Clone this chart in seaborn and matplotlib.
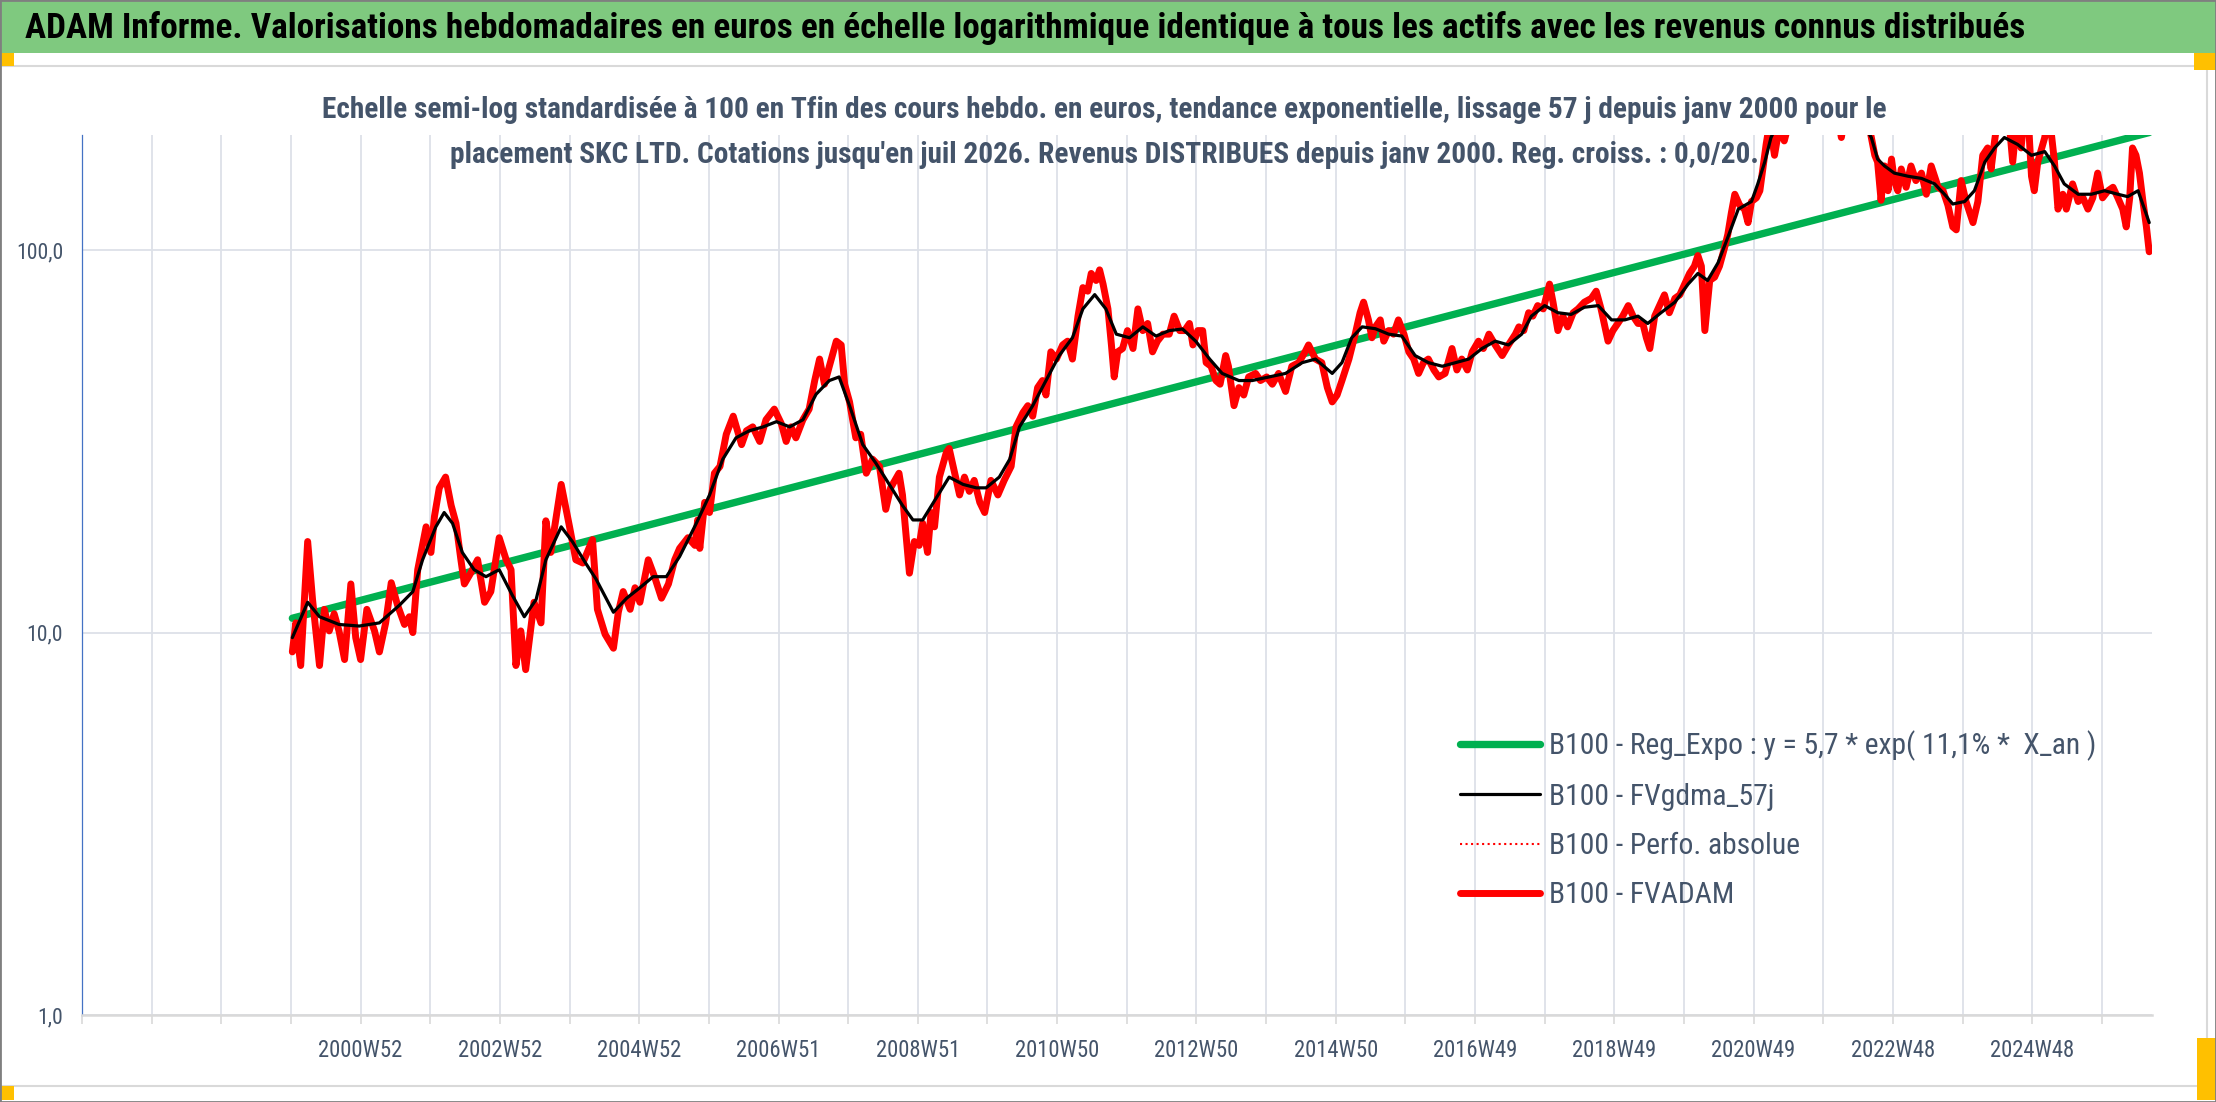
import os
import matplotlib
matplotlib.use("Agg")
import matplotlib.pyplot as plt
import pandas as pd
import seaborn as sns
from matplotlib import font_manager as fm
from matplotlib.font_manager import FontProperties
from matplotlib.patches import Rectangle
from matplotlib.ticker import NullLocator

# B100 - FVADAM (annee decimale, valeur base 100)
fvadam = [
    (2000.02, 8.9), (2000.07, 10.6), (2000.14, 8.2), (2000.24, 17.3), (2000.31, 12.2), (2000.41, 8.2),
    (2000.48, 11.5), (2000.55, 10.1), (2000.62, 11.2), (2000.69, 10.1), (2000.77, 8.5), (2000.86, 13.4),
    (2000.93, 9.7), (2001.00, 8.5), (2001.09, 11.5), (2001.20, 10.1), (2001.27, 8.9), (2001.36, 10.6),
    (2001.44, 13.5), (2001.53, 11.8), (2001.63, 10.5), (2001.70, 11.0), (2001.75, 10.0), (2001.82, 14.6),
    (2001.94, 18.9), (2002.01, 16.2), (2002.06, 20.1), (2002.13, 23.9), (2002.22, 25.5), (2002.30, 21.5),
    (2002.37, 19.3), (2002.44, 15.5), (2002.49, 13.4), (2002.58, 14.3), (2002.68, 15.5), (2002.78, 12.0),
    (2002.87, 12.8), (2002.99, 17.7), (2003.09, 15.5), (2003.16, 14.6), (2003.23, 8.2), (2003.30, 10.1),
    (2003.37, 8.0), (2003.49, 12.0), (2003.59, 10.6), (2003.66, 19.6), (2003.73, 16.2), (2003.80, 19.6),
    (2003.88, 24.4), (2004.00, 18.9), (2004.09, 15.5), (2004.19, 15.2), (2004.33, 17.5), (2004.40, 11.5),
    (2004.51, 9.9), (2004.63, 9.1), (2004.70, 11.3), (2004.77, 12.8), (2004.87, 11.5), (2004.94, 13.1),
    (2005.01, 12.0), (2005.13, 15.5), (2005.22, 14.0), (2005.32, 12.3), (2005.42, 13.4), (2005.51, 15.5),
    (2005.58, 16.6), (2005.70, 17.7), (2005.80, 16.9), (2005.84, 19.7), (2005.87, 16.6), (2005.94, 21.9),
    (2006.01, 20.6), (2006.08, 26.1), (2006.16, 27.2), (2006.25, 33.0), (2006.35, 36.8), (2006.47, 31.0),
    (2006.54, 33.7), (2006.63, 34.5), (2006.73, 31.6), (2006.82, 36.0), (2006.94, 38.4), (2007.04, 35.2),
    (2007.11, 31.6), (2007.18, 34.5), (2007.25, 32.3), (2007.35, 36.0), (2007.44, 38.4), (2007.52, 45.6),
    (2007.59, 51.9), (2007.66, 44.6), (2007.73, 49.7), (2007.83, 57.8), (2007.90, 56.5), (2007.95, 44.6),
    (2008.02, 40.1), (2008.11, 32.3), (2008.18, 33.0), (2008.26, 26.1), (2008.35, 28.4), (2008.45, 27.2),
    (2008.54, 21.0), (2008.61, 23.9), (2008.73, 26.1), (2008.78, 22.9), (2008.88, 14.3), (2008.95, 17.3),
    (2009.02, 16.9), (2009.07, 19.3), (2009.14, 16.2), (2009.19, 20.6), (2009.24, 18.9), (2009.31, 25.5),
    (2009.41, 29.6), (2009.45, 30.3), (2009.53, 26.1), (2009.60, 22.9), (2009.67, 25.5), (2009.74, 23.4),
    (2009.81, 25.0), (2009.89, 21.9), (2009.96, 20.6), (2010.05, 25.0), (2010.15, 22.9), (2010.24, 25.0),
    (2010.34, 27.2), (2010.41, 34.5), (2010.51, 37.6), (2010.58, 39.2), (2010.65, 36.8), (2010.72, 43.7),
    (2010.79, 45.6), (2010.84, 41.8), (2010.91, 54.2), (2010.99, 51.9), (2011.08, 56.5), (2011.15, 57.8),
    (2011.22, 51.9), (2011.30, 67.2), (2011.37, 79.8), (2011.44, 78.1), (2011.49, 86.9), (2011.56, 83.3),
    (2011.61, 88.8), (2011.66, 81.5), (2011.73, 70.2), (2011.78, 56.5), (2011.82, 46.6), (2011.87, 54.2),
    (2011.94, 55.3), (2012.01, 61.6), (2012.09, 55.3), (2012.16, 70.2), (2012.23, 61.6), (2012.30, 64.3),
    (2012.37, 54.2), (2012.44, 57.8), (2012.52, 60.3), (2012.61, 60.3), (2012.68, 67.2), (2012.76, 61.6),
    (2012.83, 61.6), (2012.90, 64.3), (2012.95, 56.5), (2013.02, 61.6), (2013.09, 61.6), (2013.14, 50.8),
    (2013.21, 49.7), (2013.28, 45.6), (2013.34, 44.6), (2013.42, 53.0), (2013.46, 49.7), (2013.54, 39.2),
    (2013.61, 43.7), (2013.68, 41.8), (2013.75, 46.6), (2013.85, 47.6), (2013.92, 45.6), (2014.01, 46.6),
    (2014.09, 44.6), (2014.18, 47.6), (2014.28, 42.7), (2014.37, 49.7), (2014.47, 50.8), (2014.56, 54.2),
    (2014.61, 56.5), (2014.71, 51.9), (2014.80, 50.8), (2014.88, 43.7), (2014.95, 40.1), (2015.02, 41.8),
    (2015.09, 45.6), (2015.19, 51.9), (2015.28, 60.3), (2015.35, 68.6), (2015.40, 73.1), (2015.47, 65.7),
    (2015.52, 59.0), (2015.57, 63.0), (2015.64, 65.7), (2015.69, 57.8), (2015.76, 61.6), (2015.83, 60.3),
    (2015.90, 65.7), (2015.98, 60.3), (2016.05, 54.2), (2016.12, 51.9), (2016.19, 47.6), (2016.26, 50.8),
    (2016.33, 51.9), (2016.41, 48.6), (2016.48, 46.6), (2016.57, 47.6), (2016.67, 55.3), (2016.74, 48.6),
    (2016.81, 51.9), (2016.89, 48.6), (2016.96, 54.2), (2017.05, 57.8), (2017.12, 55.3), (2017.20, 60.3),
    (2017.29, 56.5), (2017.39, 53.0), (2017.48, 56.5), (2017.58, 60.3), (2017.63, 63.0), (2017.70, 61.6),
    (2017.77, 68.6), (2017.83, 67.2), (2017.90, 71.6), (2017.98, 70.2), (2018.07, 81.5), (2018.12, 73.1),
    (2018.19, 61.6), (2018.26, 67.2), (2018.33, 63.0), (2018.41, 68.6), (2018.48, 70.2), (2018.57, 73.1),
    (2018.67, 74.8), (2018.74, 78.1), (2018.81, 70.2), (2018.91, 57.8), (2018.98, 61.6), (2019.05, 64.3),
    (2019.12, 67.2), (2019.20, 71.6), (2019.27, 67.2), (2019.34, 64.3), (2019.41, 64.3), (2019.46, 59.0),
    (2019.51, 55.3), (2019.58, 67.2), (2019.65, 71.6), (2019.72, 76.4), (2019.79, 68.6), (2019.87, 74.8),
    (2019.94, 76.4), (2020.01, 81.5), (2020.08, 86.9), (2020.15, 90.8), (2020.20, 96.8), (2020.25, 90.8),
    (2020.30, 61.6), (2020.37, 83.3), (2020.44, 85.0), (2020.51, 90.8), (2020.58, 101.0), (2020.63, 110.0),
    (2020.68, 125.0), (2020.73, 140.0), (2020.80, 131.0), (2020.87, 128.0), (2020.92, 118.0), (2020.97, 134.0),
    (2021.04, 137.0), (2021.09, 143.0), (2021.13, 162.0), (2021.18, 189.0), (2021.23, 215.0), (2021.30, 177.0),
    (2021.37, 210.0), (2021.44, 193.0), (2021.52, 220.0), (2021.60, 240.0), (2021.70, 260.0), (2021.80, 250.0),
    (2021.90, 270.0), (2022.00, 255.0), (2022.10, 240.0), (2022.20, 230.0), (2022.26, 197.0), (2022.32, 230.0),
    (2022.45, 250.0), (2022.55, 240.0), (2022.65, 215.0), (2022.74, 177.0), (2022.78, 170.0), (2022.83, 135.0),
    (2022.88, 166.0), (2022.93, 143.0), (2022.98, 173.0), (2023.02, 152.0), (2023.07, 143.0), (2023.12, 163.0),
    (2023.19, 146.0), (2023.26, 166.0), (2023.33, 152.0), (2023.41, 159.0), (2023.48, 140.0), (2023.55, 166.0),
    (2023.65, 146.0), (2023.72, 143.0), (2023.79, 131.0), (2023.86, 115.0), (2023.91, 113.0), (2023.98, 152.0),
    (2024.05, 134.0), (2024.15, 118.0), (2024.22, 134.0), (2024.29, 177.0), (2024.36, 185.0), (2024.41, 163.0),
    (2024.46, 193.0), (2024.52, 230.0), (2024.60, 215.0), (2024.66, 225.0), (2024.72, 170.0), (2024.78, 220.0),
    (2024.84, 185.0), (2024.90, 235.0), (2024.95, 210.0), (2024.99, 156.0), (2025.03, 143.0), (2025.08, 170.0),
    (2025.18, 197.0), (2025.24, 230.0), (2025.32, 170.0), (2025.37, 128.0), (2025.44, 140.0), (2025.49, 128.0),
    (2025.58, 149.0), (2025.66, 134.0), (2025.73, 137.0), (2025.80, 128.0), (2025.87, 137.0), (2025.94, 159.0),
    (2026.01, 137.0), (2026.09, 143.0), (2026.16, 146.0), (2026.23, 137.0), (2026.30, 128.0), (2026.35, 115.0),
    (2026.40, 137.0), (2026.44, 185.0), (2026.49, 177.0), (2026.54, 159.0), (2026.59, 134.0), (2026.64, 115.0),
    (2026.68, 99.0),
]

# B100 - FVgdma_57j (courbe lissee)
fvgdma = [
    (2000.02, 9.7), (2000.24, 12.0), (2000.41, 11.0), (2000.69, 10.5), (2000.98, 10.4), (2001.27, 10.6),
    (2001.56, 11.8), (2001.75, 12.8), (2001.89, 15.5), (2002.08, 18.9), (2002.20, 20.6), (2002.32, 19.3),
    (2002.46, 16.2), (2002.63, 14.6), (2002.80, 14.0), (2002.99, 14.6), (2003.18, 12.5), (2003.35, 11.0),
    (2003.52, 12.2), (2003.66, 15.5), (2003.88, 18.9), (2004.04, 17.3), (2004.23, 15.2), (2004.38, 13.8),
    (2004.63, 11.3), (2004.82, 12.3), (2005.01, 13.1), (2005.20, 14.0), (2005.39, 14.0), (2005.58, 15.8),
    (2005.82, 19.3), (2006.01, 22.9), (2006.20, 28.4), (2006.39, 32.3), (2006.58, 33.7), (2006.78, 34.5),
    (2006.97, 35.6), (2007.16, 34.5), (2007.35, 36.0), (2007.54, 42.0), (2007.73, 45.6), (2007.87, 46.6),
    (2008.02, 39.2), (2008.21, 31.0), (2008.40, 27.7), (2008.59, 24.4), (2008.78, 21.5), (2008.93, 19.7),
    (2009.07, 19.7), (2009.26, 22.4), (2009.45, 25.5), (2009.65, 24.4), (2009.84, 23.9), (2009.98, 23.9),
    (2010.17, 25.5), (2010.32, 28.4), (2010.46, 34.5), (2010.65, 39.2), (2010.84, 45.6), (2011.03, 53.0),
    (2011.22, 59.0), (2011.37, 70.2), (2011.54, 76.5), (2011.70, 70.2), (2011.85, 60.3), (2012.04, 59.0),
    (2012.23, 63.0), (2012.42, 59.6), (2012.61, 61.6), (2012.80, 62.2), (2012.99, 57.8), (2013.19, 51.9),
    (2013.37, 47.6), (2013.61, 45.6), (2013.80, 45.6), (2014.04, 46.6), (2014.28, 47.6), (2014.52, 50.8),
    (2014.71, 51.9), (2014.95, 47.6), (2015.09, 50.8), (2015.23, 59.0), (2015.38, 63.0), (2015.57, 62.3),
    (2015.76, 60.3), (2015.95, 59.6), (2016.14, 53.0), (2016.33, 50.8), (2016.53, 49.7), (2016.72, 50.8),
    (2016.91, 51.9), (2017.10, 55.3), (2017.29, 57.8), (2017.48, 56.5), (2017.67, 60.3), (2017.81, 67.2),
    (2018.00, 71.6), (2018.19, 68.6), (2018.38, 67.9), (2018.57, 70.9), (2018.77, 71.6), (2018.96, 65.7),
    (2019.15, 65.7), (2019.34, 67.2), (2019.48, 64.3), (2019.67, 68.6), (2019.87, 73.1), (2020.06, 81.5),
    (2020.20, 86.9), (2020.34, 83.3), (2020.49, 92.7), (2020.63, 108.0), (2020.78, 128.0), (2020.97, 134.0),
    (2021.06, 149.0), (2021.16, 170.0), (2021.25, 197.0), (2021.35, 215.0), (2021.50, 235.0), (2021.80, 250.0),
    (2022.10, 250.0), (2022.40, 235.0), (2022.60, 210.0), (2022.69, 197.0), (2022.78, 173.0), (2022.88, 166.0),
    (2023.02, 159.0), (2023.22, 156.0), (2023.41, 154.0), (2023.60, 149.0), (2023.74, 140.0), (2023.86, 132.0),
    (2024.03, 134.0), (2024.17, 143.0), (2024.32, 170.0), (2024.46, 185.0), (2024.60, 197.0), (2024.79, 189.0),
    (2024.99, 177.0), (2025.18, 181.0), (2025.32, 166.0), (2025.46, 149.0), (2025.66, 140.0), (2025.85, 140.0),
    (2026.04, 143.0), (2026.23, 140.0), (2026.37, 138.0), (2026.52, 143.0), (2026.68, 118.0),
]

# B100 - Reg_Expo : droite de tendance (debut et fin)
reg_expo = [(2000.02, 10.9), (2026.68, 203.0)]

x_labels = ["2000W52", "2002W52", "2004W52", "2006W51", "2008W51", "2010W50", "2012W50",
            "2014W50", "2016W49", "2018W49", "2020W49", "2022W48", "2024W48"]
y_ticks = [1, 10, 100]
y_labels = ["1,0", "10,0", "100,0"]

series_names = ["B100 - Reg_Expo : y = 5,7 * exp( 11,1% *  X_an )",
                "B100 - FVgdma_57j",
                "B100 - Perfo. absolue",
                "B100 - FVADAM"]

title = ("ADAM Informe. Valorisations hebdomadaires en euros en échelle logarithmique "
         "identique à tous les actifs avec les revenus connus distribués")
subtitle_1 = ("Echelle semi-log standardisée à 100 en Tfin des cours hebdo. en euros, tendance "
              "exponentielle, lissage 57 j depuis janv 2000 pour le")
subtitle_2 = ("placement SKC LTD. Cotations jusqu'en juil 2026. Revenus DISTRIBUES depuis "
              "janv 2000. Reg. croiss. : 0,0/20.")

df_red = pd.DataFrame(fvadam, columns=["annee", "valeur"])
df_black = pd.DataFrame(fvgdma, columns=["annee", "valeur"])
df_green = pd.DataFrame(reg_expo, columns=["annee", "valeur"])

sns.set_theme(style="white")
plt.rcParams["font.family"] = ["DejaVu Sans"]


def narrow_font(bold):
    # cherche une police etroite proche de Calibri parmi celles installees
    prefs = ["liberationsansnarrow", "notosanscondensed", "robotocondensed",
             "opensanscond", "dejavusanscondensed"]
    best = None
    for f in fm.fontManager.ttflist:
        base = os.path.basename(f.fname).lower().replace("-", "").replace("_", "")
        rank = next((i for i, p in enumerate(prefs) if base.startswith(p)), None)
        if rank is None:
            continue
        if any(k in base for k in ("italic", "oblique", "light", "thin", "medium",
                                   "black", "extra", "semi", "ultra")):
            continue
        if ("bold" in base) != bold:
            continue
        if best is None or rank < best[0]:
            best = (rank, f.fname)
    if best:
        return FontProperties(fname=best[1])
    return FontProperties(family="DejaVu Sans", weight="bold" if bold else "normal")


fp_reg = narrow_font(False)
fp_bold = narrow_font(True)

W, H = 2216, 1102
fig = plt.figure(figsize=(W / 100, H / 100), dpi=100)
fig.patch.set_facecolor("white")
renderer = fig.canvas.get_renderer()


def fx(px):
    return px / W


def fy(py):
    return 1 - py / H


def sized(fp, sample, target_px):
    # taille de police pour que le texte temoin fasse target_px de large
    p = fp.copy()
    p.set_size(20)
    t = fig.text(0, 0, sample, fontproperties=p)
    bb = t.get_window_extent(renderer)
    t.remove()
    p.set_size(20 * target_px / bb.width)
    return p, bb.height * target_px / bb.width


# cadre, bandeau vert et poignees orange
fig.patches.append(Rectangle((0, fy(53)), 1, fy(1) - fy(53), transform=fig.transFigure,
                             facecolor="#7FC97F", edgecolor="none"))
fig.patches.append(Rectangle((fx(0), fy(1086)), fx(2207), fy(66) - fy(1086), transform=fig.transFigure,
                             fill=False, edgecolor="#D9D9D9", linewidth=1.5))
for (x0, y0, x1, y1) in [(0, 53, 14, 66), (2194, 53, 2216, 70), (0, 1086, 14, 1100), (2197, 1038, 2216, 1100)]:
    fig.patches.append(Rectangle((fx(x0), fy(y1)), fx(x1) - fx(x0), fy(y0) - fy(y1),
                                 transform=fig.transFigure, facecolor="#FFC000", edgecolor="none"))
fig.patches.append(Rectangle((0, 0), 1, 1, transform=fig.transFigure, fill=False,
                             edgecolor="#7F7F7F", linewidth=2))

ax = fig.add_axes([fx(82), fy(1015), fx(2152) - fx(82), fy(135) - fy(1015)])

sns.lineplot(data=df_green, x="annee", y="valeur", ax=ax, color="#00B050", linewidth=5.3,
             label=series_names[0], zorder=3)
sns.lineplot(data=df_red, x="annee", y="valeur", ax=ax, color="#FF0000", linewidth=1.5,
             linestyle=":", label=series_names[2], zorder=4)
sns.lineplot(data=df_red, x="annee", y="valeur", ax=ax, color="#FF0000", linewidth=5.0,
             label=series_names[3], zorder=5, solid_joinstyle="round")
sns.lineplot(data=df_black, x="annee", y="valeur", ax=ax, color="black", linewidth=2.3,
             label=series_names[1], zorder=6)

ax.set_yscale("log")
ax.set_ylim(1, 200)
ax.set_xlim(1997.0, 2026.72)

fp_x, _ = sized(fp_reg, "2000W52", 85)
fp_y, _ = sized(fp_reg, "100,0", 47)

grid_years = list(range(1997, 2027))
label_years = {2001 + 2 * i: lab for i, lab in enumerate(x_labels)}
ax.set_xticks(grid_years)
ax.set_xticklabels([label_years.get(y, "") for y in grid_years], fontproperties=fp_x,
                   color="#44546A")
ax.set_yticks(y_ticks)
ax.set_yticklabels(y_labels, fontproperties=fp_y, color="#44546A")
ax.yaxis.set_minor_locator(NullLocator())
ax.xaxis.set_minor_locator(NullLocator())
ax.grid(True, which="major", color="#DDE1E8", linewidth=1.3)
ax.set_axisbelow(True)
ax.tick_params(axis="x", bottom=True, length=6.5, width=1.2, color="#D9D9D9", pad=11)
ax.tick_params(axis="y", left=False, length=0, pad=13.5)
ax.set_xlabel("")
ax.set_ylabel("")
for s in ["top", "right"]:
    ax.spines[s].set_visible(False)
ax.spines["bottom"].set_color("#D9D9D9")
ax.spines["bottom"].set_linewidth(1.8)
ax.spines["left"].set_color("#4472C4")
ax.spines["left"].set_linewidth(0.9)

# legende : largeur du plus long libelle ~550 px, pas de 51 px entre lignes
fp_leg, h_leg = sized(fp_reg, series_names[0], 548)
fs_px = fp_leg.get_size() * 100 / 72
handles, labels = ax.get_legend_handles_labels()
order = [labels.index(n) for n in series_names]
leg = ax.legend([handles[i] for i in order], [labels[i] for i in order], loc="upper left",
                bbox_to_anchor=(fx(1460), fy(746 - h_leg / 2)), bbox_transform=fig.transFigure,
                frameon=False, prop=fp_leg, handlelength=80 / fs_px, handletextpad=9 / fs_px,
                labelspacing=max(0.1, (52 - h_leg) / fs_px), borderpad=0, borderaxespad=0)
for t in leg.get_texts():
    t.set_color("#44546A")

fp_title, _ = sized(fp_bold, title, 1996)
fp_sub, _ = sized(fp_bold, subtitle_1, 1564)
fig.text(fx(25), fy(28), title, ha="left", va="center", fontproperties=fp_title, color="black")
fig.text(fx(1104), fy(110), subtitle_1, ha="center", va="center", fontproperties=fp_sub,
         color="#44546A")
fig.text(fx(1104), fy(155), subtitle_2, ha="center", va="center", fontproperties=fp_sub,
         color="#44546A")

fig.savefig("out.png", dpi=100)
